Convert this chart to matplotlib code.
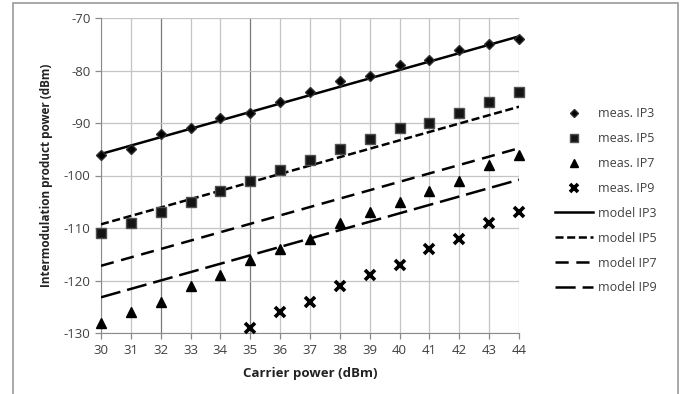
import matplotlib.pyplot as plt
from matplotlib.patches import Rectangle

plt.rcParams['font.family'] = ['Open Sans', 'DejaVu Sans']
plt.rcParams['lines.scale_dashes'] = False
plt.rcParams['axes.unicode_minus'] = False

# measured carrier power (dBm)
carrier = [30, 31, 32, 33, 34, 35, 36, 37, 38, 39, 40, 41, 42, 43, 44]
meas_ip3 = [-96, -95, -92, -91, -89, -88, -86, -84, -82, -81, -79, -78, -76, -75, -74]
meas_ip5 = [-111, -109, -107, -105, -103, -101, -99, -97, -95, -93, -91, -90, -88, -86, -84]
meas_ip7 = [-128, -126, -124, -121, -119, -116, -114, -112, -109, -107, -105, -103, -101, -98, -96]
carrier_ip9 = [35, 36, 37, 38, 39, 40, 41, 42, 43, 44]
meas_ip9 = [-129, -126, -124, -121, -119, -117, -114, -112, -109, -107]

# model lines (end points)
model_x = [30, 44]
model_ip3 = [-95.9, -73.5]
model_ip5 = [-109.3, -86.9]
model_ip7 = [-117.2, -94.8]
model_ip9 = [-123.2, -100.8]

fig = plt.figure(figsize=(6.86, 3.94), dpi=100)
fig.patches.append(Rectangle((13 / 686, -0.1), (678 - 13) / 686, 1 - 3 / 394 + 0.1,
                             transform=fig.transFigure, fill=False,
                             edgecolor='#9a9a9a', linewidth=1.2))

ax = fig.add_axes([101 / 686, 1 - 333 / 394, (519 - 101) / 686, (333 - 18) / 394])

ax.plot(carrier, meas_ip3, linestyle='none', marker='D', markersize=5.5,
        color='black', markeredgecolor='#303030', label='meas. IP3', zorder=4, clip_on=False)
ax.plot(carrier, meas_ip5, linestyle='none', marker='s', markersize=7.5,
        color='#151515', markeredgecolor='#505050', label='meas. IP5', zorder=4, clip_on=False)
ax.plot(carrier, meas_ip7, linestyle='none', marker='^', markersize=7,
        color='black', label='meas. IP7', zorder=4, clip_on=False)
ax.plot(carrier_ip9, meas_ip9, linestyle='none', marker='x', markersize=7.5,
        markeredgewidth=2.6, color='black', label='meas. IP9', zorder=4, clip_on=False)

lw = 1.8
ax.plot(model_x, model_ip3, color='black', linewidth=lw, label='model IP3', zorder=3)
ax.plot(model_x, model_ip5, color='black', linewidth=lw, linestyle=(0, (5.8, 2.6)),
        label='model IP5', zorder=3)
ax.plot(model_x, model_ip7, color='black', linewidth=lw, linestyle=(0, (9.5, 5.5)),
        label='model IP7', zorder=3)
ax.plot(model_x, model_ip9, color='black', linewidth=lw, linestyle=(0, (14.5, 5.0)),
        label='model IP9', zorder=3)

ax.set_xlim(30, 44)
ax.set_ylim(-130, -70)
ax.set_xticks(carrier)
ax.set_yticks([-130, -120, -110, -100, -90, -80, -70])
ax.grid(True, color='#c4c4c4', linewidth=0.9)
ax.set_axisbelow(True)
for i, gl in enumerate(ax.get_xgridlines()):
    if carrier[i] in (32, 35):
        gl.set_color('#7a7a7a')

for side in ('top', 'right'):
    ax.spines[side].set_visible(False)
for side in ('left', 'bottom'):
    ax.spines[side].set_color('#8a8a8a')
ax.tick_params(axis='both', colors='#8a8a8a', labelcolor='#404040', labelsize=9.5,
               length=4, width=0.9)
ax.tick_params(axis='x', pad=4)

ax.set_xlabel('Carrier power (dBm)', fontsize=9.5, fontweight='bold', color='#222222', labelpad=7)
ax.set_ylabel('Intermodulation product power (dBm)', fontsize=8.5, fontweight='bold',
              color='#222222', labelpad=8)

ax.legend(loc='upper left', bbox_to_anchor=(1.06, 0.752), frameon=False, fontsize=9,
          labelcolor='#404040', handlelength=3.0, labelspacing=0.95, handletextpad=0.4,
          markerscale=0.75)

fig.savefig('out.png', dpi=100)
